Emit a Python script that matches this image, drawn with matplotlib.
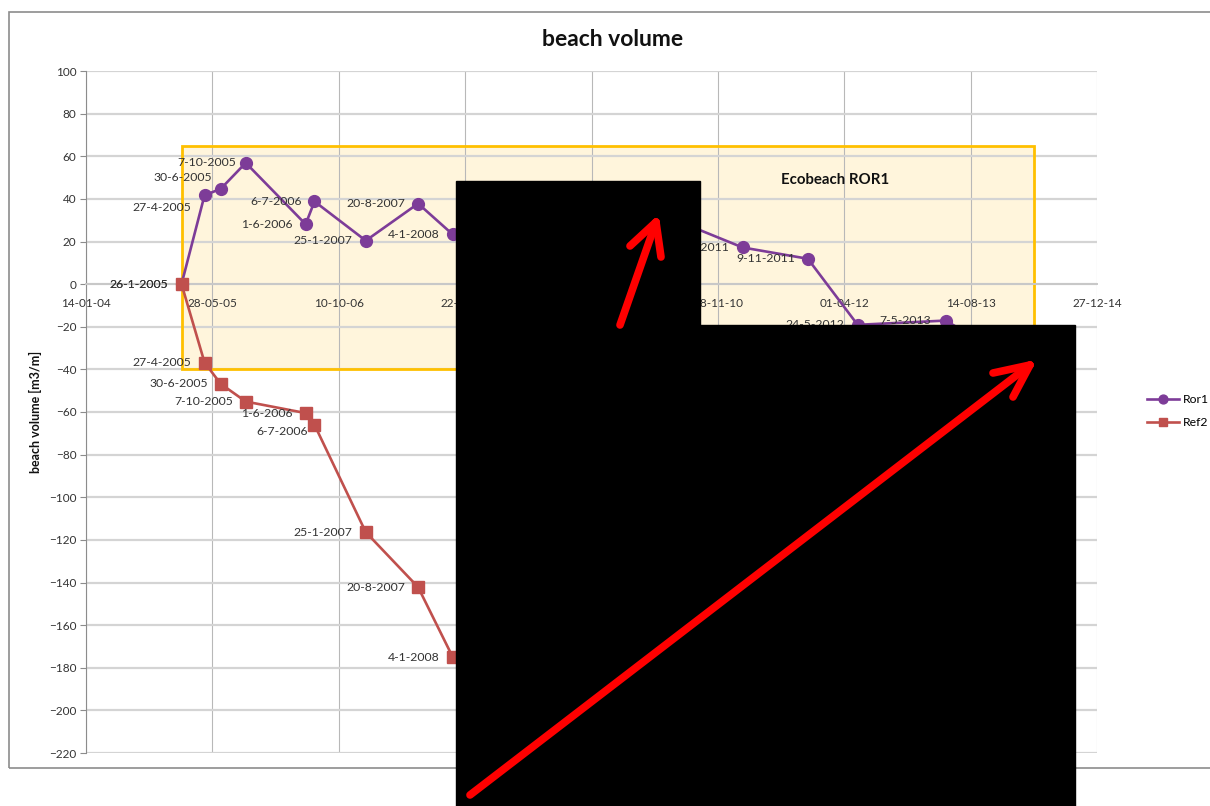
import datetime as dt

import matplotlib
matplotlib.use("Agg")
import matplotlib.pyplot as plt
from matplotlib import dates, ticker
from matplotlib.lines import Line2D
from matplotlib.patches import Rectangle

plt.rcParams['font.family'] = ['Lato', 'DejaVu Sans']

# meetdata (laatste punten liggen onder de zwarte vlakken, geschat)
ror1_dates = ["26-1-2005", "27-4-2005", "30-6-2005", "7-10-2005", "1-6-2006",
              "6-7-2006", "25-1-2007", "20-8-2007", "4-1-2008", "10-3-2009",
              "15-9-2009", "20-6-2010", "24-2-2011", "9-11-2011", "24-5-2012",
              "7-5-2013", "10-10-2013"]
ror1_vals = [0, 41.7, 44.7, 56.9, 28.1, 38.8, 20.4, 37.8, 23.3, 33,
             26, 29.2, 17.2, 11.9, -19.1, -17.1, -28]

ref2_dates = ["26-1-2005", "27-4-2005", "30-6-2005", "7-10-2005", "1-6-2006",
              "6-7-2006", "25-1-2007", "20-8-2007", "4-1-2008", "10-3-2009",
              "15-9-2009", "20-6-2010", "24-2-2011", "9-11-2011", "24-5-2012",
              "7-5-2013", "10-10-2013"]
ref2_vals = [0, -36.8, -46.8, -55.1, -60.5, -66.0, -116.4, -142.2, -175.0, -182,
             -196, -184, -200, -186, -204, -190, -210]

# label-offsets in pixels (dx, dy), standaard links van het punt
ror1_offsets = {1: (-13, -12), 2: (-9, 11), 3: (-10, 0), 15: (-15, 0)}
ref2_offsets = {5: (-7, -7)}

x_start = dt.datetime(2004, 1, 14)
x_step_days = 500
n_steps = 8
y_min, y_max, y_step = -220, 100, 20

box_start = dt.datetime(2005, 1, 26)
box_end = dt.datetime(2014, 4, 21)
box_low, box_high = -40, 65

purple = '#7D3C98'
red = '#C0504D'
fs = 8.8


def to_dates(lst):
    return [dt.datetime.strptime(s, "%d-%m-%Y") for s in lst]


fig = plt.figure(figsize=(12.1, 8.06), dpi=100)
W, H = 1210, 806
ax = fig.add_axes([86 / W, 1 - 753 / H, (1097 - 86) / W, (753 - 71) / H])

x0 = dates.date2num(x_start)
xticks = [x0 + x_step_days * k for k in range(n_steps + 1)]
ax.set_xlim(xticks[0], xticks[-1])
ax.set_ylim(y_min, y_max)
ax.xaxis.set_major_locator(ticker.FixedLocator(xticks))
ax.xaxis.set_major_formatter(dates.DateFormatter("%d-%m-%y"))
ax.yaxis.set_major_locator(ticker.MultipleLocator(y_step))

ax.set_axisbelow(True)
ax.grid(axis='y', color='#D4D4D4', lw=1.6)
ax.grid(axis='x', color='#B8B8B8', lw=0.8)
for s in ['top', 'right']:
    ax.spines[s].set_visible(False)
ax.spines['left'].set_color('#8C8C8C')
ax.spines['bottom'].set_position(('data', 0))
ax.spines['bottom'].set_color('#C8C8C8')
ax.spines['bottom'].set_linewidth(1.4)
ax.tick_params(axis='x', length=0, pad=10, labelsize=8.5, colors='#333333')
ax.tick_params(axis='y', length=4, color='#8C8C8C', pad=3, labelsize=8.5,
               colors='#333333')

# Ecobeach kader (onder de rasterlijnen)
bx0, bx1 = dates.date2num(box_start), dates.date2num(box_end)
ax.add_patch(Rectangle((bx0, box_low), bx1 - bx0, box_high - box_low,
                       facecolor='#FFF5DC', edgecolor='none', zorder=0.3))
ax.add_patch(Rectangle((bx0, box_low), bx1 - bx0, box_high - box_low,
                       fill=False, edgecolor='#FFC000', lw=2, zorder=1))
ax.text(dates.date2num(dt.datetime(2012, 2, 23)), 48.9, "Ecobeach ROR1",
        ha='center', va='center', fontsize=10.8, fontweight='bold', color='#111111')

series = [("Ror1", ror1_dates, ror1_vals, purple, 'o', ror1_offsets),
          ("Ref2", ref2_dates, ref2_vals, red, 's', ref2_offsets)]
for name, d_str, vals, col, mk, offs in series:
    d = to_dates(d_str)
    ax.plot(d, vals, color=col, lw=1.9, marker=mk, markersize=8.5 if mk == 'o' else 8,
            label=name, zorder=3)
    for i, (xd, yv, lab) in enumerate(zip(d, vals, d_str)):
        dx, dy = offs.get(i, (-13, 0))
        ax.annotate(lab, (xd, yv), xytext=(dx * 0.72, dy * 0.72),
                    textcoords='offset points', ha='right', va='center',
                    fontsize=fs, color='#333333', zorder=4)

ax.legend(loc='center left', bbox_to_anchor=(1136 / W, 1 - 411 / H),
          bbox_transform=fig.transFigure, frameon=False, fontsize=fs,
          handlelength=2.6, handletextpad=0.3, labelspacing=1.0, markerscale=0.75)

fig.text(613 / W, 1 - 40 / H, "beach volume", ha='center', va='center',
         fontsize=16.5, fontweight='bold', color='#111111')
fig.text(35 / W, 1 - 412 / H, "beach volume [m3/m]", ha='center', va='center',
         rotation=90, fontsize=9, fontweight='bold', color='#111111')

# buitenrand van de grafiek
fig.add_artist(Rectangle((9 / W, 1 - 768 / H), 1.0, (768 - 12) / H,
                         transform=fig.transFigure, fill=False,
                         edgecolor='#8C8C8C', lw=1.2, zorder=0))

# zwarte vlakken en rode pijlen
fig.add_artist(Rectangle((456 / W, 0), (700 - 456) / W, 1 - 181 / H,
                         transform=fig.transFigure, color='black', zorder=10))
fig.add_artist(Rectangle((700 / W, 0), (1075 - 700) / W, 1 - 325 / H,
                         transform=fig.transFigure, color='black', zorder=10))


def arrow(pts):
    for (xa, ya), (xb, yb) in pts:
        fig.add_artist(Line2D([xa / W, xb / W], [1 - ya / H, 1 - yb / H],
                              transform=fig.transFigure, color='#FF0000',
                              lw=5.5, solid_capstyle='round', zorder=11))


arrow([((620, 325), (656, 222)), ((656, 222), (630, 246)), ((656, 222), (661, 257))])
arrow([((470, 795), (1030, 365)), ((1030, 365), (993, 373)), ((1030, 365), (1013, 397))])

fig.savefig("out.png", dpi=100)
